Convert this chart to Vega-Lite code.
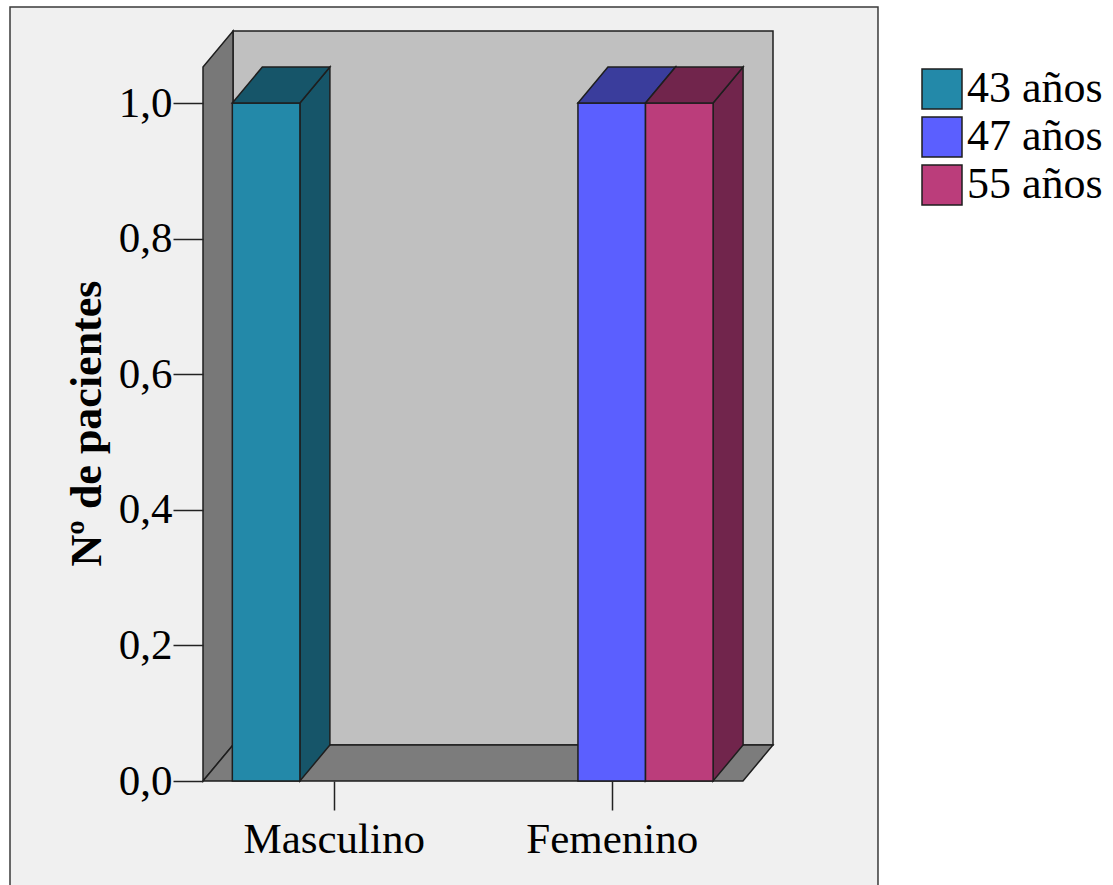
{
  "$schema": "https://vega.github.io/schema/vega-lite/v6.json",
  "width": 570,
  "height": 750,
  "autosize": {"type": "none"},
  "padding": {"left": 203, "top": 31, "right": 340, "bottom": 104},
  "background": "white",
  "config": {
    "view": {"stroke": null},
    "font": "Liberation Serif",
    "axis": {"labelFont": "Liberation Serif", "titleFont": "Liberation Serif"},
    "legend": {"labelFont": "Liberation Serif"}
  },
  "datasets": {
    "pacientes": [
      {"sexo": "Masculino", "edad": "43 años", "n": 1},
      {"sexo": "Femenino", "edad": "47 años", "n": 1},
      {"sexo": "Femenino", "edad": "55 años", "n": 1}
    ],
    "dos": [{"t": 0}, {"t": 1}]
  },
  "resolve": {"scale": {"color": "independent"}},
  "layer": [
    {
      "data": {"values": [{}]},
      "mark": {"type": "rect", "fill": "#f0f0f0", "stroke": "#3a3a3a", "strokeWidth": 1.5},
      "encoding": {
        "x": {
          "datum": -0.1641, "type": "quantitative",
          "scale": {"domain": [0.53, 2.58], "nice": false, "zero": false},
          "axis": {
            "orient": "bottom", "values": [1, 2], "title": null,
            "labelExpr": "datum.value == 1 ? 'Masculino' : 'Femenino'",
            "domain": false, "grid": false, "tickSize": 29, "tickColor": "#222", "tickWidth": 1.5,
            "labelFontSize": 43, "labelColor": "black", "labelPadding": 8, "labelLimit": 0, "zindex": 1
          }
        },
        "x2": {"datum": 2.9576},
        "y": {
          "datum": -0.3, "type": "quantitative",
          "scale": {"domain": [0, 1.1062], "nice": false, "zero": false},
          "axis": {
            "values": [0, 0.2, 0.4, 0.6, 0.8, 1.0],
            "labelExpr": "replace(format(datum.value, '.1f'), '.', ',')",
            "domain": false, "grid": false, "tickSize": 30, "tickColor": "#222", "tickWidth": 1.5,
            "labelFontSize": 43, "labelColor": "black", "labelPadding": 1, "labelLimit": 0,
            "title": "Nº de pacientes", "titleFontSize": 44, "titleFontWeight": "bold", "titleColor": "black",
            "titleAngle": -90, "titleX": -103, "titleY": 392, "titleAlign": "center", "titleBaseline": "alphabetic",
            "zindex": 1
          }
        },
        "y2": {"datum": 1.1416}
      }
    },
    {
      "data": {"values": [{}]},
      "mark": {"type": "rect", "fill": "#c0c0c0", "stroke": "#1e1e1e", "strokeWidth": 1.5},
      "encoding": {
        "x": {"datum": 0.6379, "type": "quantitative"},
        "x2": {"datum": 2.58},
        "y": {"datum": 0.0531, "type": "quantitative"},
        "y2": {"datum": 1.1062}
      }
    },
    {
      "data": {"name": "dos"},
      "transform": [
        {"calculate": "0.53 + datum.t * 0.1079", "as": "xw"},
        {"calculate": "datum.t * 0.0531", "as": "ylo"},
        {"calculate": "1.0531 + datum.t * 0.0531", "as": "yhi"}
      ],
      "mark": {"type": "area", "orient": "vertical", "fill": "#787878", "stroke": "#1e1e1e", "strokeWidth": 1.5, "interpolate": "linear"},
      "encoding": {
        "x": {"field": "xw", "type": "quantitative"},
        "y": {"field": "yhi", "type": "quantitative", "stack": null},
        "y2": {"field": "ylo"}
      }
    },
    {
      "data": {"name": "dos"},
      "transform": [
        {"calculate": "datum.t * 0.0531", "as": "yf"},
        {"calculate": "0.53 + datum.t * 0.1079", "as": "xa"},
        {"calculate": "2.472 + datum.t * 0.1079", "as": "xb"}
      ],
      "mark": {"type": "area", "orient": "horizontal", "fill": "#7c7c7c", "stroke": "#1e1e1e", "strokeWidth": 1.5, "interpolate": "linear"},
      "encoding": {
        "y": {"field": "yf", "type": "quantitative"},
        "x": {"field": "xa", "type": "quantitative", "stack": null},
        "x2": {"field": "xb"}
      }
    },
    {
      "data": {"name": "pacientes"},
      "transform": [
        {"calculate": "datum.sexo == 'Masculino' ? 1 : 2", "as": "c"},
        {"calculate": "indexof(['43 años', '47 años', '55 años'], datum.edad)", "as": "k"},
        {"calculate": "datum.c + (datum.k - 1.5) * 0.243", "as": "x0"},
        {"calculate": "datum.x0 + 0.243", "as": "x1"},
        {"calculate": "[0, 1]", "as": "t"},
        {"flatten": ["t"]},
        {"calculate": "datum.x1 + datum.t * 0.1079", "as": "xs"},
        {"calculate": "datum.t * 0.0531", "as": "ylo"},
        {"calculate": "datum.n + datum.t * 0.0531", "as": "yhi"}
      ],
      "mark": {"type": "area", "orient": "vertical", "stroke": "#1e1e1e", "strokeWidth": 1.5, "opacity": 1, "fillOpacity": 1, "interpolate": "linear"},
      "encoding": {
        "x": {"field": "xs", "type": "quantitative"},
        "y": {"field": "yhi", "type": "quantitative", "stack": null},
        "y2": {"field": "ylo"},
        "detail": {"field": "edad"},
        "color": {
          "field": "edad", "type": "nominal", "legend": null,
          "scale": {"domain": ["43 años", "47 años", "55 años"], "range": ["#165569", "#3a3d9c", "#71254c"]}
        }
      }
    },
    {
      "data": {"name": "pacientes"},
      "transform": [
        {"calculate": "datum.sexo == 'Masculino' ? 1 : 2", "as": "c"},
        {"calculate": "indexof(['43 años', '47 años', '55 años'], datum.edad)", "as": "k"},
        {"calculate": "datum.c + (datum.k - 1.5) * 0.243", "as": "x0"},
        {"calculate": "datum.x0 + 0.243", "as": "x1"}
      ],
      "mark": {"type": "rect", "stroke": "#1e1e1e", "strokeWidth": 1.5, "opacity": 1},
      "encoding": {
        "x": {"field": "x0", "type": "quantitative"},
        "x2": {"field": "x1"},
        "y": {"field": "n", "type": "quantitative"},
        "y2": {"datum": 0},
        "color": {
          "field": "edad", "type": "nominal",
          "scale": {"domain": ["43 años", "47 años", "55 años"], "range": ["#2389a9", "#5b5fff", "#bb3d7b"]},
          "legend": {
            "orient": "none", "legendX": 717, "legendY": 36, "title": null,
            "symbolType": "square", "symbolSize": 1600, "symbolStrokeColor": "#1e1e1e", "symbolStrokeWidth": 1.5,
            "symbolOpacity": 1, "labelFontSize": 44, "labelColor": "black", "labelOffset": 3, "rowPadding": 2, "labelLimit": 0
          }
        }
      }
    },
    {
      "data": {"name": "pacientes"},
      "transform": [
        {"calculate": "datum.sexo == 'Masculino' ? 1 : 2", "as": "c"},
        {"calculate": "indexof(['43 años', '47 años', '55 años'], datum.edad)", "as": "k"},
        {"calculate": "datum.c + (datum.k - 1.5) * 0.243", "as": "x0"},
        {"calculate": "datum.x0 + 0.243", "as": "x1"},
        {"calculate": "[0, 1]", "as": "t"},
        {"flatten": ["t"]},
        {"calculate": "datum.n + datum.t * 0.0531", "as": "yt"},
        {"calculate": "datum.x0 + datum.t * 0.1079", "as": "xa"},
        {"calculate": "datum.x1 + datum.t * 0.1079", "as": "xb"}
      ],
      "mark": {"type": "area", "orient": "horizontal", "stroke": "#1e1e1e", "strokeWidth": 1.5, "opacity": 1, "fillOpacity": 1, "interpolate": "linear"},
      "encoding": {
        "y": {"field": "yt", "type": "quantitative"},
        "x": {"field": "xa", "type": "quantitative", "stack": null},
        "x2": {"field": "xb"},
        "detail": {"field": "edad"},
        "color": {
          "field": "edad", "type": "nominal", "legend": null,
          "scale": {"domain": ["43 años", "47 años", "55 años"], "range": ["#165569", "#3a3d9c", "#71254c"]}
        }
      }
    }
  ]
}
